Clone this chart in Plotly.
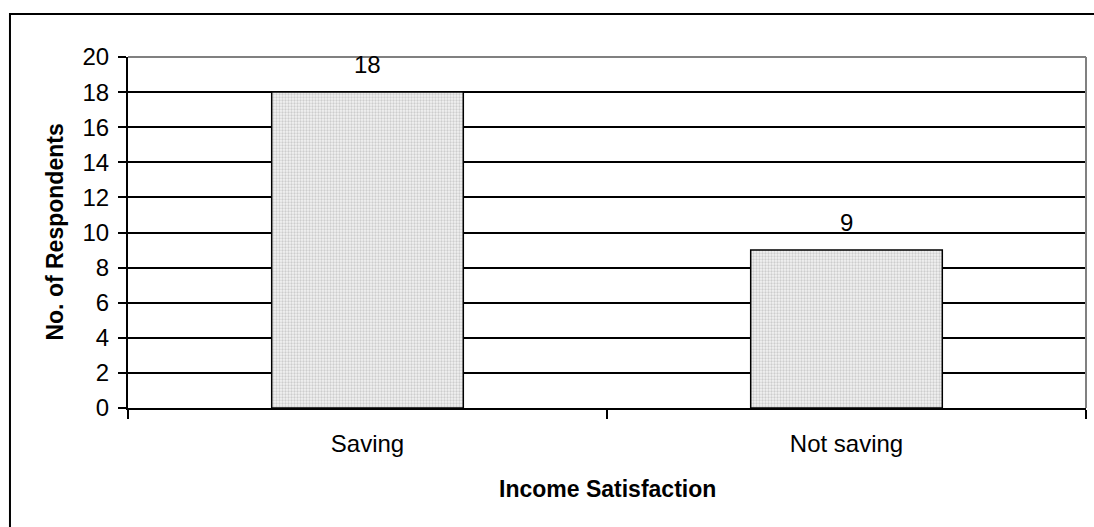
import plotly.graph_objects as go

# Respondents by saving behaviour
categories = ["Saving", "Not saving"]
respondents = [18, 9]
y_ticks = list(range(0, 21, 2))

FONT = "Liberation Sans, Arial, sans-serif"

fig = go.Figure()
fig.add_trace(go.Bar(
    x=categories,
    y=respondents,
    marker=dict(
        color="#ffffff",
        line=dict(color="#000000", width=1.5),
        pattern=dict(shape=".", fgcolor="#a8a8a8", bgcolor="#f2f2f2", size=3, solidity=0.45),
    ),
    showlegend=False,
    hoverinfo="x+y",
))

# value labels above each bar
for cat, val in zip(categories, respondents):
    fig.add_annotation(
        x=cat, y=val, text=str(val), showarrow=False,
        xref="x", yref="y", yanchor="middle", yshift=28,
        font=dict(family=FONT, size=24, color="#000000"),
    )

# axis titles
fig.add_annotation(
    x=-0.0772, y=0.5, xref="paper", yref="paper",
    text="<b>No. of Respondents</b>", textangle=-90, showarrow=False,
    xanchor="center", yanchor="middle",
    font=dict(family=FONT, size=23, color="#000000"),
)
fig.add_annotation(
    x=0.5, y=-0.232, xref="paper", yref="paper",
    text="<b>Income Satisfaction</b>", showarrow=False,
    xanchor="center", yanchor="middle",
    font=dict(family=FONT, size=23, color="#000000"),
)

# grey frame on the top and right of the plot area
fig.add_shape(type="line", xref="paper", yref="paper", x0=0, x1=1, y0=1, y1=1,
              line=dict(color="#808080", width=2), layer="above")
fig.add_shape(type="line", xref="paper", yref="paper", x0=1, x1=1, y0=0, y1=1,
              line=dict(color="#808080", width=2), layer="above")

# outer chart border
fig.add_shape(type="rect", xref="paper", yref="paper",
              x0=-0.1232, x1=1.05, y0=-0.6, y1=1.1225,
              line=dict(color="#000000", width=2), fillcolor="rgba(0,0,0,0)")

fig.update_layout(
    width=1094, height=527,
    margin=dict(l=128, r=8, t=57, b=119),
    paper_bgcolor="#ffffff",
    plot_bgcolor="#ffffff",
    bargap=0.6,
    font=dict(family=FONT, size=24, color="#000000"),
    xaxis=dict(
        type="category",
        tickson="boundaries",
        ticks="outside", ticklen=9, tickwidth=1.5, tickcolor="#000000",
        showline=True, linecolor="#000000", linewidth=2,
        showgrid=False,
        ticklabelstandoff=13,
        tickfont=dict(family=FONT, size=24, color="#000000"),
    ),
    yaxis=dict(
        range=[0, 20],
        tickvals=y_ticks,
        ticks="outside", ticklen=8, tickwidth=1.5, tickcolor="#000000",
        showline=True, linecolor="#000000", linewidth=2,
        showgrid=True, gridcolor="#000000", gridwidth=1.5,
        zeroline=False,
        ticklabelstandoff=4,
        tickfont=dict(family=FONT, size=24, color="#000000"),
    ),
)

fig.write_html("out.html")
